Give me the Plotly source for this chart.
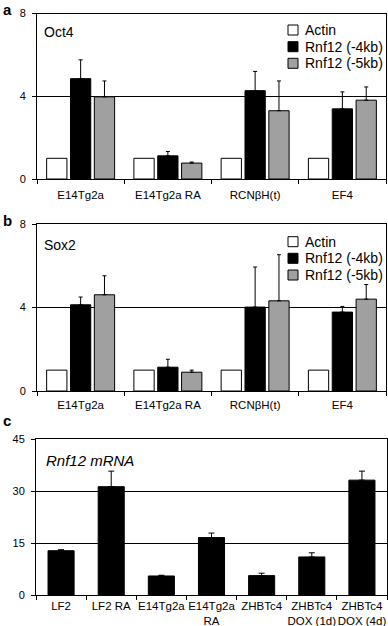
import plotly.graph_objects as go

# ---------------- data ----------------
cats_ab = ["E14Tg2a", "E14Tg2a RA", "RCNβH(t)", "EF4"]
series_names = ["Actin", "Rnf12 (-4kb)", "Rnf12 (-5kb)"]
series_colors = ["#ffffff", "#000000", "#a0a0a0"]

oct4_actin = [1.0, 1.0, 1.0, 1.0]
oct4_m4 = [4.85, 1.12, 4.27, 3.39]
oct4_m4_err = [0.91, 0.21, 0.93, 0.82]
oct4_m5 = [3.97, 0.77, 3.30, 3.81]
oct4_m5_err = [0.77, 0.05, 1.44, 0.64]

sox2_actin = [1.0, 1.0, 1.0, 1.0]
sox2_m4 = [4.13, 1.14, 4.02, 3.78]
sox2_m4_err = [0.37, 0.38, 1.92, 0.27]
sox2_m5 = [4.61, 0.90, 4.32, 4.40]
sox2_m5_err = [0.91, 0.10, 2.21, 0.70]

cats_c = ["LF2", "LF2 RA", "E14Tg2a", "E14Tg2a<br>RA", "ZHBTc4",
          "ZHBTc4<br>DOX (1d)", "ZHBTc4<br>DOX (4d)"]
rnf12_mrna = [12.8, 31.3, 5.5, 16.6, 5.6, 11.0, 33.2]
rnf12_mrna_err = [0.3, 4.5, 0.2, 1.3, 0.7, 1.2, 2.6]

ab_ticks = [0, 4, 8]
c_ticks = [0, 15, 30, 45]

W, H = 388, 626
FONT = "Liberation Sans, Arial, sans-serif"


def px(y):
    return (H - y) / H


def pxx(x):
    return x / W


fig = go.Figure()


def add_group(xa, ya, vals_list, errs_list):
    for name, color, vals, errs in zip(series_names, series_colors, vals_list, errs_list):
        kw = {}
        if errs is not None:
            kw["error_y"] = dict(type="data", array=errs, arrayminus=[0] * len(errs),
                                 symmetric=False, color="black", thickness=1, width=2)
        fig.add_trace(go.Bar(x=cats_ab, y=vals, name=name, marker=dict(color=color,
                             line=dict(color="black", width=1)), xaxis=xa, yaxis=ya,
                             showlegend=False, **kw))


add_group("x", "y", [oct4_actin, oct4_m4, oct4_m5], [None, oct4_m4_err, oct4_m5_err])
add_group("x2", "y2", [sox2_actin, sox2_m4, sox2_m5], [None, sox2_m4_err, sox2_m5_err])

fig.add_trace(go.Bar(x=cats_c, y=rnf12_mrna, name="Rnf12 mRNA", width=0.52,
                     marker=dict(color="black", line=dict(color="black", width=1)),
                     error_y=dict(type="data", array=rnf12_mrna_err,
                                  arrayminus=[0] * len(rnf12_mrna_err), symmetric=False,
                                  color="black", thickness=1, width=3),
                     xaxis="x3", yaxis="y3", showlegend=False))

xcommon = dict(type="category", showline=True, linecolor="black", linewidth=1, mirror=True,
               ticks="outside", ticklen=4, tickcolor="black", tickson="boundaries",
               showgrid=False, tickangle=0, automargin=False,
               tickfont=dict(family=FONT, size=11.5, color="black"),
               fixedrange=True)
ycommon = dict(showline=True, linecolor="black", linewidth=1, mirror=True,
               ticks="outside", ticklen=4, tickcolor="black", showgrid=True,
               gridcolor="black", gridwidth=1, zeroline=False, automargin=False,
               tickfont=dict(family=FONT, size=11, color="black"), ticklabelstandoff=4)

fig.update_layout(
    width=W, height=H, margin=dict(l=0, r=0, t=0, b=0),
    paper_bgcolor="white", plot_bgcolor="white",
    barmode="group", bargap=0.18, bargroupgap=0.15,
    showlegend=False,
    font=dict(family=FONT, color="black"),
    xaxis=dict(domain=[pxx(37), pxx(386)], anchor="y", ticklabelstandoff=5, **xcommon),
    yaxis=dict(domain=[px(179), px(13.5)], anchor="x", range=[0, 8], tickvals=ab_ticks, **ycommon),
    xaxis2=dict(domain=[pxx(37), pxx(386)], anchor="y2", ticklabelstandoff=3, **xcommon),
    yaxis2=dict(domain=[px(391), px(224)], anchor="x2", range=[0, 8], tickvals=ab_ticks, **ycommon),
    xaxis3=dict(domain=[pxx(36), pxx(387)], anchor="y3", **xcommon),
    yaxis3=dict(domain=[px(595), px(439.3)], anchor="x3", range=[0, 45], tickvals=c_ticks, **ycommon),
)

annotations = []
shapes = []

# panel letters
for letter, yy in [("a", 10), ("b", 220), ("c", 420)]:
    annotations.append(dict(text="<b>" + letter + "</b>", x=pxx(0.5), y=px(yy), xref="paper", yref="paper",
                            xanchor="left", yanchor="middle", showarrow=False,
                            font=dict(family=FONT, size=15, color="black")))

# panel titles
annotations.append(dict(text="Oct4", x=pxx(42), y=px(32), xref="paper", yref="paper",
                        xanchor="left", yanchor="middle", showarrow=False,
                        font=dict(family=FONT, size=14, color="black")))
annotations.append(dict(text="Sox2", x=pxx(42), y=px(245), xref="paper", yref="paper",
                        xanchor="left", yanchor="middle", showarrow=False,
                        font=dict(family=FONT, size=14, color="black")))
annotations.append(dict(text="<i>Rnf12 mRNA</i>", x=pxx(44), y=px(460), xref="paper", yref="paper",
                        xanchor="left", yanchor="middle", showarrow=False,
                        font=dict(family=FONT, size=15, color="black")))

# legends
for rows in ([30, 46.7, 63.3], [241.7, 258.3, 275]):
    for name, color, yc in zip(series_names, series_colors, rows):
        shapes.append(dict(type="rect", xref="paper", yref="paper",
                           x0=pxx(288), x1=pxx(298), y0=px(yc + 5), y1=px(yc - 5),
                           fillcolor=color, line=dict(color="black", width=1)))
        annotations.append(dict(text=name, x=pxx(303), y=px(yc), xref="paper", yref="paper",
                                xanchor="left", yanchor="middle", showarrow=False,
                                font=dict(family=FONT, size=14, color="black")))

fig.update_layout(annotations=annotations, shapes=shapes)

fig.write_html("out.html",
               config={"displayModeBar": False, "staticPlot": True},
               post_script="document.body.style.margin='0';document.body.style.padding='0';"
                           "document.body.style.overflow='hidden';")
